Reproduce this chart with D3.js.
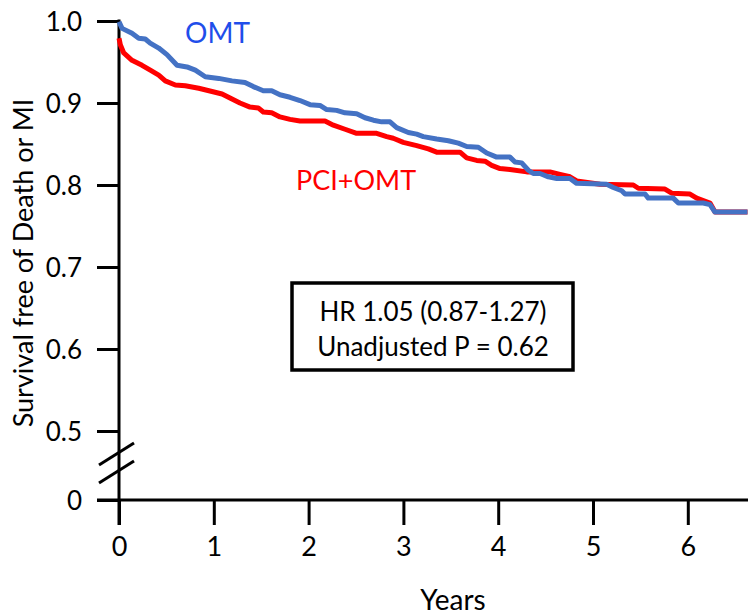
<!DOCTYPE html>
<html>
<head>
<meta charset="utf-8">
<script src="https://cdn.jsdelivr.net/npm/d3@7"></script>
<style>
  html, body { margin: 0; padding: 0; background: #ffffff; }
  svg { display: block; }
  text { font-family: Lato, "Open Sans", sans-serif; fill: #000; }
</style>
</head>
<body>
<svg id="chart" width="748" height="616"></svg>
<script>
// Kaplan-Meier estimates: survival free of death or MI
const omtYears = [0, 0.032, 0.137, 0.208, 0.277, 0.329, 0.419, 0.506, 0.612, 0.717, 0.805, 0.910, 1.052, 1.192, 1.329, 1.417, 1.522, 1.611, 1.698, 1.804, 1.909, 2.015, 2.120, 2.191, 2.296, 2.384, 2.507, 2.595, 2.683, 2.771, 2.859, 2.929, 3.052, 3.140, 3.210, 3.351, 3.474, 3.579, 3.668, 3.790, 3.879, 3.984, 4.124, 4.177, 4.248, 4.318, 4.370, 4.441, 4.529, 4.617, 4.757, 4.828, 5.144, 5.214, 5.303, 5.338, 5.549, 5.583, 5.847, 5.900, 6.163, 6.234, 6.287, 6.630];
const omtSurv  = [0.999, 0.991, 0.985, 0.979, 0.978, 0.973, 0.967, 0.959, 0.946, 0.944, 0.940, 0.932, 0.930, 0.927, 0.925, 0.920, 0.915, 0.915, 0.910, 0.907, 0.903, 0.898, 0.897, 0.892, 0.891, 0.888, 0.887, 0.882, 0.879, 0.877, 0.877, 0.870, 0.864, 0.862, 0.859, 0.856, 0.854, 0.851, 0.847, 0.846, 0.839, 0.834, 0.834, 0.828, 0.827, 0.818, 0.814, 0.814, 0.810, 0.808, 0.808, 0.802, 0.801, 0.797, 0.793, 0.789, 0.789, 0.784, 0.784, 0.778, 0.778, 0.776, 0.767, 0.767];

const pciYears = [0, 0.014, 0.050, 0.137, 0.243, 0.330, 0.419, 0.488, 0.594, 0.699, 0.841, 0.981, 1.087, 1.171, 1.276, 1.382, 1.469, 1.522, 1.611, 1.698, 1.804, 1.909, 2.173, 2.261, 2.384, 2.507, 2.718, 2.824, 2.893, 2.999, 3.140, 3.263, 3.351, 3.597, 3.668, 3.773, 3.861, 3.931, 4.019, 4.124, 4.301, 4.546, 4.652, 4.757, 4.828, 5.074, 5.425, 5.478, 5.759, 5.830, 6.023, 6.094, 6.234, 6.287, 6.630];
const pciSurv  = [0.979, 0.971, 0.961, 0.952, 0.946, 0.940, 0.934, 0.927, 0.922, 0.921, 0.918, 0.914, 0.911, 0.906, 0.900, 0.895, 0.894, 0.889, 0.888, 0.883, 0.880, 0.878, 0.878, 0.873, 0.868, 0.863, 0.863, 0.859, 0.857, 0.852, 0.848, 0.844, 0.840, 0.840, 0.833, 0.830, 0.829, 0.824, 0.820, 0.819, 0.816, 0.816, 0.813, 0.810, 0.805, 0.801, 0.800, 0.796, 0.795, 0.790, 0.789, 0.784, 0.778, 0.767, 0.767];

const xTicks = [0, 1, 2, 3, 4, 5, 6];
const yTicks = [0, 0.5, 0.6, 0.7, 0.8, 0.9, 1.0];

const seriesLabels = ["OMT", "PCI+OMT"];
const statLines = ["HR 1.05 (0.87-1.27)", "Unadjusted P = 0.62"];

const svg = d3.select("#chart");
const W = 748, H = 616;
const x0 = 119, yearPx = 94.8;

const x = d3.scaleLinear().domain([0, 7]).range([x0, x0 + 7 * yearPx]);
// broken axis: 0 sits below the break, 0.5-1.0 above it
const y = d3.scaleLinear().domain([0, 0.5, 1.0]).range([500, 431, 21]);

const axisW = 3;

// y axis
const yAxis = svg.append("g")
  .attr("transform", `translate(${x0},0)`)
  .call(d3.axisLeft(y).tickValues(yTicks).tickSize(22).tickPadding(15)
        .tickFormat(d => d === 0 ? "0" : d3.format(".1f")(d)));
yAxis.select(".domain").remove();
yAxis.selectAll(".tick line").attr("stroke", "#000").attr("stroke-width", axisW);
yAxis.selectAll(".tick text").style("font-size", "26px").attr("dy", "0.36em");

// x axis
const xAxis = svg.append("g")
  .attr("transform", `translate(0,${y(0)})`)
  .call(d3.axisBottom(x).tickValues(xTicks).tickSize(25).tickPadding(12)
        .tickFormat(d3.format("d")));
xAxis.select(".domain").remove();
xAxis.selectAll(".tick line").attr("stroke", "#000").attr("stroke-width", axisW);
xAxis.selectAll(".tick text").style("font-size", "27px");

// axis lines
svg.append("line")
  .attr("x1", x0).attr("x2", x0).attr("y1", y(1.0) - 1.5).attr("y2", y(0) + 25)
  .attr("stroke", "#000").attr("stroke-width", axisW);
svg.append("line")
  .attr("x1", x0 - 22).attr("x2", W).attr("y1", y(0)).attr("y2", y(0))
  .attr("stroke", "#000").attr("stroke-width", axisW);

// axis break marks
[0, 18].forEach(off => {
  svg.append("line")
    .attr("x1", x0 - 20).attr("y1", 465 + off)
    .attr("x2", x0 + 15).attr("y2", 443 + off)
    .attr("stroke", "#000").attr("stroke-width", axisW);
});

// survival curves
const line = d3.line().x(d => x(d[0])).y(d => y(d[1]));
const omtPts = omtYears.map((t, i) => [t, omtSurv[i]]);
const pciPts = pciYears.map((t, i) => [t, pciSurv[i]]);

svg.append("path").datum(pciPts)
  .attr("d", line).attr("fill", "none")
  .attr("stroke", "#FF0000").attr("stroke-width", 5)
  .attr("stroke-linejoin", "round");
svg.append("path").datum(omtPts)
  .attr("d", line).attr("fill", "none")
  .attr("stroke", "#4472C4").attr("stroke-width", 5)
  .attr("stroke-linejoin", "round");

// series labels
svg.append("text").text(seriesLabels[0])
  .attr("x", 185).attr("y", 33).attr("dy", "0.36em")
  .style("font-size", "28px").style("fill", "#1F4EEA");
svg.append("text").text(seriesLabels[1])
  .attr("x", 296).attr("y", 180).attr("dy", "0.36em")
  .style("font-size", "27px").style("fill", "#FF0000");

// statistics box
svg.append("rect")
  .attr("x", 292).attr("y", 283).attr("width", 281).attr("height", 87)
  .attr("fill", "#fff").attr("stroke", "#000").attr("stroke-width", 3.5);
statLines.forEach((s, i) => {
  svg.append("text").text(s)
    .attr("x", 433).attr("y", 312 + i * 35).attr("dy", "0.36em")
    .attr("text-anchor", "middle").style("font-size", "26px");
});

// axis titles
svg.append("text").text("Years")
  .attr("x", 453).attr("y", 600).attr("dy", "0.36em")
  .attr("text-anchor", "middle").style("font-size", "28px");
svg.append("text").text("Survival free of Death or MI")
  .attr("transform", "translate(23,263) rotate(-90)")
  .attr("dy", "0.36em").attr("text-anchor", "middle").style("font-size", "27px");
</script>
</body>
</html>
